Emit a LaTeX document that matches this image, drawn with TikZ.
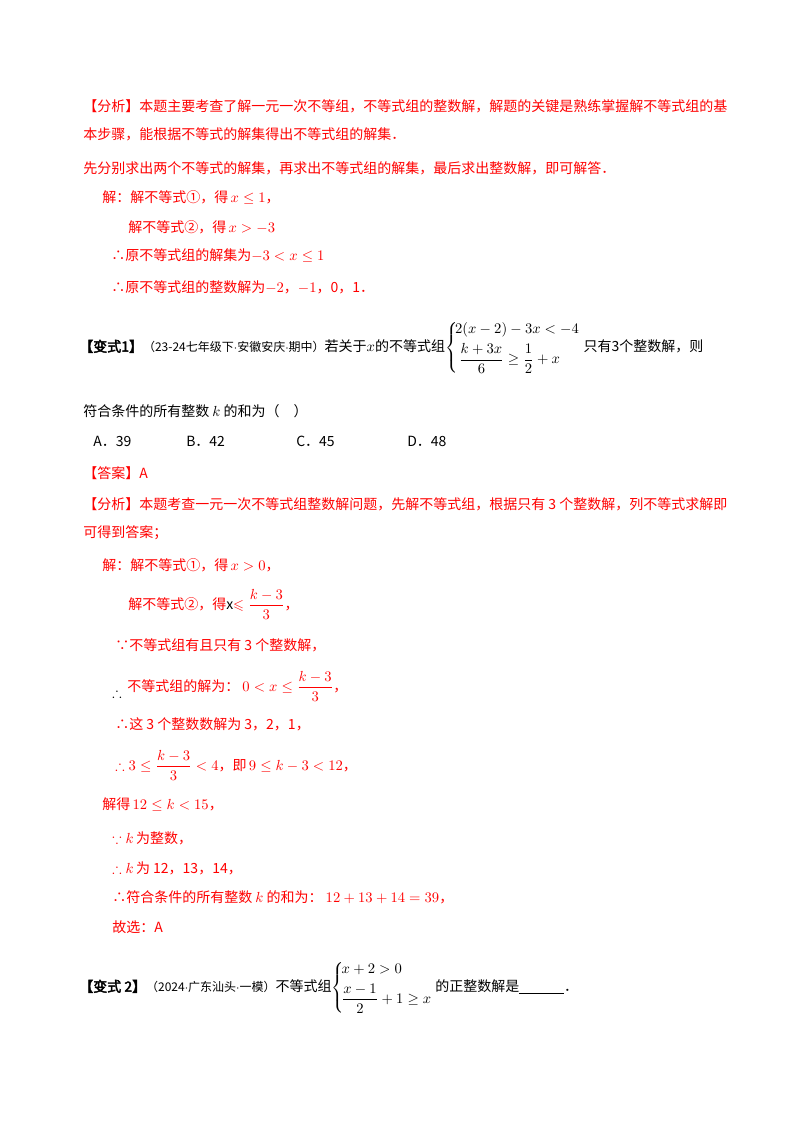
\documentclass[tikz,border=0pt]{standalone}
\usepackage{amsmath,amssymb}
\usepackage{fontspec}
\setmainfont{Noto Sans CJK SC}
\newfontfamily\cjkb[FakeBold=3]{Noto Sans CJK SC}
\newcommand{\md}{$\cdot$}
\newcommand{\sm}{\fontsize{9}{10}\selectfont}
\begin{document}
\begin{tikzpicture}[x=0.75pt,y=-0.75pt,
  t/.style={anchor=west,inner sep=0pt,font=\fontsize{10.5}{12}\selectfont},
  r/.style={t,text=red}]
\useasboundingbox (0,0) rectangle (800,1132);
\fill[white] (0,0) rectangle (800,1132);
\node[r] (l1) at (83,106) {【分析】本题主要考查了解一元一次不等组，不等式组的整数解，解题的关键是熟练掌握解不等式组的基};
\node[r] (l2) at (83,134) {本步骤，能根据不等式的解集得出不等式组的解集．};
\node[r] (l3) at (83,168) {先分别求出两个不等式的解集，再求出不等式组的解集，最后求出整数解，即可解答．};
\node[r] (l4) at (102,198) {解：解不等式①，得\,$x\le1$，};
\node[r] (l5) at (128,227) {解不等式②，得\,$x>-3$};
\node[r] (l6) at (111,256) {∴原不等式组的解集为$-3<x\le1$};
\node[r] (l7) at (111,287) {∴原不等式组的整数解为$-2$，$-1$，0，1．};
\node[t] (v1) at (79,348) {{\cjkb 【变式1】}{\sm（23-24七年级下\md 安徽安庆\md 期中）}若关于$x$的不等式组$\left\{\!\begin{array}{@{}l@{}}2(x-2)-3x<-4\\[4pt] \;\dfrac{k+3x}{6}\ge\dfrac12+x\end{array}\right.$\ 只有3个整数解，则};
\node[t] (v1b) at (83,411) {符合条件的所有整数 $k$ 的和为（\quad）};
\node[t] (oa) at (93,441) {A．39};
\node[t] (ob) at (186,441) {B．42};
\node[t] (oc) at (296,441) {C．45};
\node[t] (od) at (407,441) {D．48};
\node[r] (ans) at (83,473) {【答案】A};
\node[r] (m1) at (83,504) {【分析】本题考查一元一次不等式组整数解问题，先解不等式组，根据只有 3 个整数解，列不等式求解即};
\node[r] (m2) at (83,533) {可得到答案；};
\node[r] (s1) at (102,565) {解：解不等式①，得\,$x>0$，};
\node[r] (s2) at (128,604) {解不等式②，得\textcolor{black}{x}$\leqslant\dfrac{k-3}{3}$，};
\node[r] (s3) at (115,645) {∵不等式组有且只有 3 个整数解，};
\node[t] (s4a) at (112,693) {$\therefore$};
\node[r] (s4) at (127,686) {不等式组的解为：\ $0<x\le\dfrac{k-3}{3}$，};
\node[r] (s5) at (115,724) {∴这 3 个整数数解为 3，2，1，};
\node[r] (s6) at (115,765) {$\therefore3\le\dfrac{k-3}{3}<4$，即\,$9\le k-3<12$，};
\node[r] (s7) at (102,805) {解得\,$12\le k<15$，};
\node[r] (s8) at (112,838) {$\because k$\,为整数，};
\node[r] (s9) at (112,868) {$\therefore k$\,为 12，13，14，};
\node[r] (s10) at (112,897) {∴符合条件的所有整数 $k$ 的和为：\ $12+13+14=39$，};
\node[r] (s11) at (112,927) {故选：A};
\node[t] (v2) at (79,988) {{\cjkb 【变式 2】}{\sm（2024\md 广东汕头\md 一模）}不等式组$\left\{\!\begin{array}{@{}l@{}}x+2>0\\[4pt] \dfrac{x-1}{2}+1\ge x\end{array}\right.$\,的正整数解是\underline{\hspace{3.2em}}．};
\end{tikzpicture}
\end{document}
